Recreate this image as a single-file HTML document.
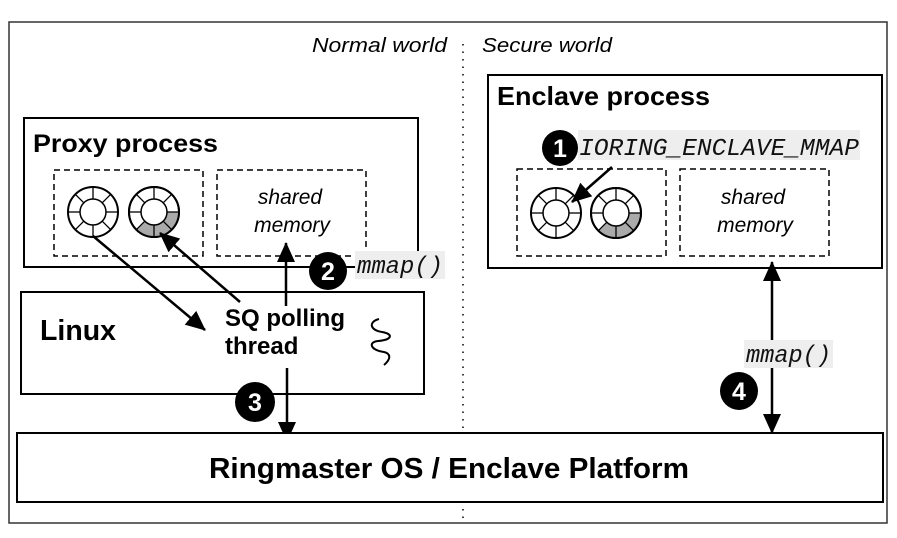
<!DOCTYPE html>
<html><head><meta charset="utf-8"><style>
html,body{margin:0;padding:0;background:#fff}
svg{display:block}
.b{font-family:"Liberation Sans",sans-serif;font-weight:bold;fill:#000}
.i{font-family:"Liberation Sans",sans-serif;font-style:italic;fill:#000}
.m{font-family:"Liberation Mono",monospace;font-style:italic;fill:#111}
</style></head><body>
<svg width="897" height="538" viewBox="0 0 897 538" xmlns="http://www.w3.org/2000/svg">
<defs>
<marker id="ahl" markerWidth="20" markerHeight="18" refX="19" refY="9" orient="auto" markerUnits="userSpaceOnUse" viewBox="0 0 20 18"><path d="M0,0 L20,9 L0,18 z" fill="#000"/></marker>
<marker id="ahs" markerWidth="20" markerHeight="18" refX="1" refY="9" orient="auto" markerUnits="userSpaceOnUse" viewBox="0 0 20 18"><path d="M20,0 L0,9 L20,18 z" fill="#000"/></marker>
<g id="ring">
<circle r="25" fill="#fff" stroke="#000" stroke-width="2"/>
<circle r="13" fill="#fff" stroke="#000" stroke-width="1.5"/>
<g stroke="#000" stroke-width="1.3">
<line x1="13" y1="0" x2="25" y2="0"/><line x1="-13" y1="0" x2="-25" y2="0"/>
<line x1="0" y1="13" x2="0" y2="25"/><line x1="0" y1="-13" x2="0" y2="-25"/>
<line x1="9.2" y1="9.2" x2="17.7" y2="17.7"/><line x1="-9.2" y1="9.2" x2="-17.7" y2="17.7"/>
<line x1="9.2" y1="-9.2" x2="17.7" y2="-17.7"/><line x1="-9.2" y1="-9.2" x2="-17.7" y2="-17.7"/>
</g></g>
<g id="ring2">
<circle r="25" fill="#fff" stroke="#000" stroke-width="2"/>
<path d="M25,0 A25,25 0 0 1 -17.7,17.7 L-9.2,9.2 A13,13 0 0 0 13,0 z" fill="#aaa"/>
<circle r="25" fill="none" stroke="#000" stroke-width="2"/>
<circle r="13" fill="#fff" stroke="#000" stroke-width="1.5"/>
<g stroke="#000" stroke-width="1.3">
<line x1="13" y1="0" x2="25" y2="0"/><line x1="-13" y1="0" x2="-25" y2="0"/>
<line x1="0" y1="13" x2="0" y2="25"/><line x1="0" y1="-13" x2="0" y2="-25"/>
<line x1="9.2" y1="9.2" x2="17.7" y2="17.7"/><line x1="-9.2" y1="9.2" x2="-17.7" y2="17.7"/>
<line x1="9.2" y1="-9.2" x2="17.7" y2="-17.7"/><line x1="-9.2" y1="-9.2" x2="-17.7" y2="-17.7"/>
</g></g>
</defs>

<rect x="9" y="22" width="878" height="501" fill="#fff" stroke="#333" stroke-width="1.5"/>
<line x1="463" y1="44" x2="463" y2="522" stroke="#000" stroke-width="1.5" stroke-dasharray="1.5,6"/>
<text class="i" x="447" y="52" font-size="20" text-anchor="end" textLength="135" lengthAdjust="spacingAndGlyphs">Normal world</text>
<text class="i" x="482" y="52" font-size="20" textLength="130" lengthAdjust="spacingAndGlyphs">Secure world</text>

<!-- Proxy process -->
<rect x="24" y="118" width="394" height="149" fill="#fff" stroke="#000" stroke-width="2"/>
<text class="b" x="33" y="152" font-size="25" textLength="185" lengthAdjust="spacingAndGlyphs">Proxy process</text>
<rect x="54" y="170" width="149" height="86" fill="none" stroke="#000" stroke-width="1.5" stroke-dasharray="6,4"/>
<rect x="217" y="170" width="149" height="86" fill="none" stroke="#000" stroke-width="1.5" stroke-dasharray="6,4"/>
<use href="#ring" x="93" y="212"/>
<use href="#ring2" x="154" y="212"/>
<text class="i" x="290" y="204" font-size="21" text-anchor="middle">shared</text>
<text class="i" x="292" y="232" font-size="21" text-anchor="middle">memory</text>

<!-- Linux -->
<rect x="21" y="292" width="403" height="102" fill="#fff" stroke="#000" stroke-width="2"/>
<text class="b" x="40" y="340" font-size="29" textLength="76" lengthAdjust="spacingAndGlyphs">Linux</text>
<text class="b" x="225" y="326" font-size="24" textLength="120" lengthAdjust="spacingAndGlyphs">SQ polling</text>
<text class="b" x="225" y="354" font-size="24">thread</text>
<path d="M379,319 C368,322 370,330 382,332 C394,334 392,340 378,341 C368,342 370,350 384,352 C392,354 390,360 384,365" fill="none" stroke="#000" stroke-width="2"/>

<!-- Arrows left -->
<line x1="93" y1="236" x2="205" y2="330" stroke="#000" stroke-width="2.5" marker-end="url(#ahl)"/>
<line x1="240" y1="302" x2="160" y2="233" stroke="#000" stroke-width="2.5" marker-end="url(#ahl)"/>
<line x1="286" y1="306" x2="286" y2="243" stroke="#000" stroke-width="2.5" marker-end="url(#ahl)"/>
<line x1="287" y1="368" x2="287" y2="441" stroke="#000" stroke-width="2.5" marker-end="url(#ahl)"/>

<rect x="355" y="251" width="90" height="28" fill="#eee"/>
<text class="m" x="357" y="273" font-size="24" textLength="86" lengthAdjust="spacingAndGlyphs">mmap()</text>
<circle cx="328" cy="271" r="19" fill="#000"/>
<text class="b" x="328" y="280" font-size="25" text-anchor="middle" style="fill:#fff">2</text>
<circle cx="255" cy="402" r="20" fill="#000"/>
<text class="b" x="255" y="411" font-size="25" text-anchor="middle" style="fill:#fff">3</text>

<!-- Enclave process -->
<rect x="488" y="75" width="394" height="193" fill="#fff" stroke="#000" stroke-width="2"/>
<text class="b" x="497" y="105" font-size="26" textLength="213" lengthAdjust="spacingAndGlyphs">Enclave process</text>
<rect x="578" y="130" width="282" height="30" fill="#eee"/>
<text class="m" x="579" y="155" font-size="24" textLength="280" lengthAdjust="spacingAndGlyphs">IORING_ENCLAVE_MMAP</text>
<rect x="517" y="169" width="149" height="87" fill="none" stroke="#000" stroke-width="1.5" stroke-dasharray="6,4"/>
<rect x="680" y="169" width="149" height="87" fill="none" stroke="#000" stroke-width="1.5" stroke-dasharray="6,4"/>
<use href="#ring" x="556" y="213"/>
<use href="#ring2" x="616" y="213"/>
<text class="i" x="753" y="204" font-size="21" text-anchor="middle">shared</text>
<text class="i" x="755" y="232" font-size="21" text-anchor="middle">memory</text>
<line x1="612" y1="167" x2="572" y2="202" stroke="#000" stroke-width="2.5" marker-end="url(#ahl)"/>
<circle cx="560" cy="148" r="18" fill="#000"/>
<text class="b" x="560" y="157" font-size="25" text-anchor="middle" style="fill:#fff">1</text>

<!-- mmap right -->
<line x1="772" y1="262" x2="772" y2="433" stroke="#000" stroke-width="2.5" marker-start="url(#ahs)" marker-end="url(#ahl)"/>
<rect x="744" y="340" width="89" height="28" fill="#eee"/>
<text class="m" x="746" y="362" font-size="24" textLength="85" lengthAdjust="spacingAndGlyphs">mmap()</text>
<circle cx="739" cy="391" r="19" fill="#000"/>
<text class="b" x="739" y="400" font-size="25" text-anchor="middle" style="fill:#fff">4</text>

<!-- Ringmaster -->
<rect x="17" y="433" width="866" height="69" fill="#fff" stroke="#000" stroke-width="2"/>
<text class="b" x="449" y="478" font-size="29" text-anchor="middle" textLength="480" lengthAdjust="spacingAndGlyphs">Ringmaster OS / Enclave Platform</text>
</svg>
</body></html>
